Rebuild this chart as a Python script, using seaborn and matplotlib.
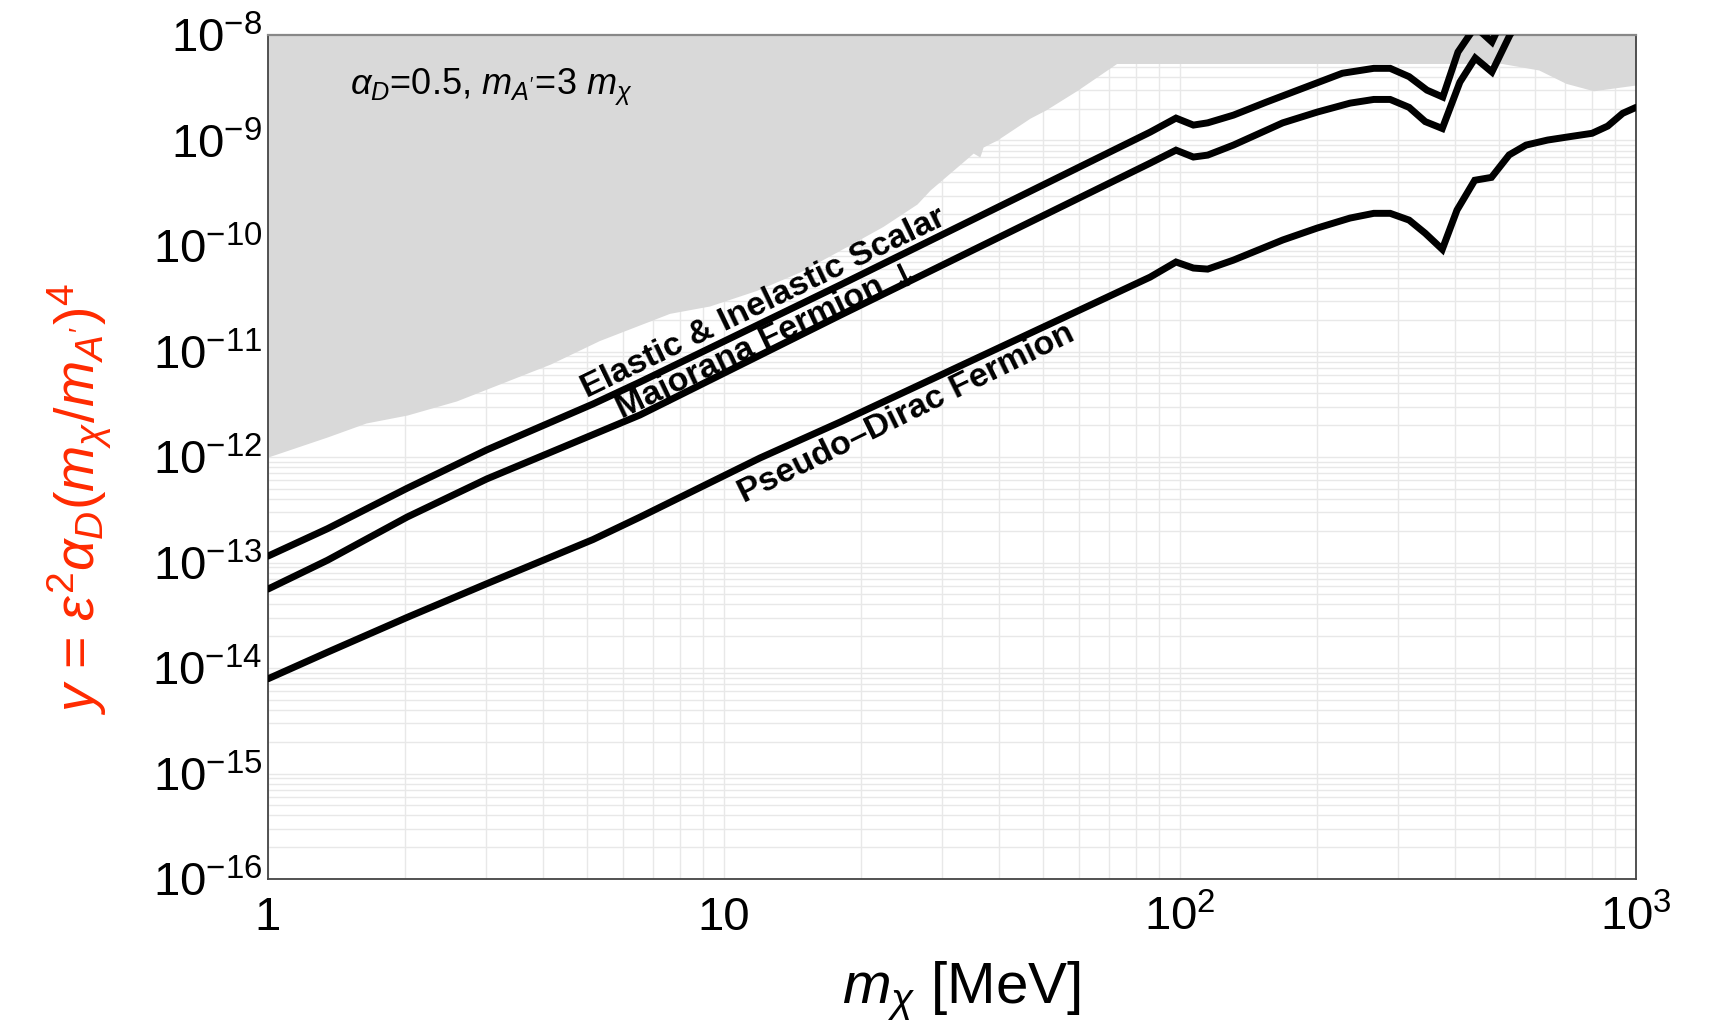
import numpy as np
import pandas as pd
import matplotlib
matplotlib.use("Agg")
import matplotlib.pyplot as plt
import seaborn as sns
from matplotlib.ticker import LogLocator

# --- values (m_chi in MeV, y dimensionless) ---
scalar_x = [1, 1.35, 2.02, 3.02, 5.16, 6.54, 17.96, 86, 98, 107, 115, 131, 155,
            227, 266, 289, 318, 348, 377, 407, 444, 483, 529, 585]
scalar_y = [1.15e-13, 2.09e-13, 5.06e-13, 1.17e-12, 3.18e-12, 5.13e-12, 4.26e-11,
            1.2e-9, 1.63e-9, 1.40e-9, 1.47e-9, 1.74e-9, 2.32e-9, 4.34e-9, 4.83e-9,
            4.83e-9, 4.03e-9, 3.0e-9, 2.58e-9, 6.9e-9, 1.2e-8, 8.6e-9, 2.0e-8, 3.8e-8]

maj_x = [1, 1.35, 2.02, 3.02, 6.54, 17.96, 86, 98, 107, 115, 131, 168, 200, 236,
         266, 289, 318, 345, 376, 411, 444, 483, 529, 585]
maj_y = [5.6e-14, 1.05e-13, 2.7e-13, 6.2e-13, 2.5e-12, 2.2e-11, 6.1e-10, 8.1e-10,
         6.97e-10, 7.27e-10, 9.05e-10, 1.47e-9, 1.86e-9, 2.26e-9, 2.45e-9, 2.45e-9,
         2.06e-9, 1.51e-9, 1.30e-9, 3.58e-9, 6.05e-9, 4.46e-9, 1.0e-8, 1.9e-8]

pd_x = [1, 1.35, 2.02, 3.02, 5.16, 6.54, 12.0, 17.96, 86, 98, 107, 115, 131, 168,
        200, 236, 266, 289, 318, 345, 376, 405, 443, 482, 527, 574, 640, 718, 801,
        867, 935, 1000]
pd_y = [7.9e-15, 1.41e-14, 3.02e-14, 6.3e-14, 1.65e-13, 2.69e-13, 9.8e-13, 2.14e-12,
        5.07e-11, 7.05e-11, 6.18e-11, 6.04e-11, 7.35e-11, 1.14e-10, 1.48e-10,
        1.84e-10, 2.04e-10, 2.04e-10, 1.76e-10, 1.32e-10, 9.3e-11, 2.19e-10, 4.2e-10,
        4.47e-10, 7.3e-10, 9.05e-10, 1.01e-9, 1.09e-9, 1.17e-9, 1.37e-9, 1.81e-9, 2.06e-9]

# excluded (gray) region: lower edge, filled up to the top of the plot
gray_x = [1, 1.35, 1.64, 2.02, 2.59, 4.16, 5.33, 7.6, 9.3, 11.8, 14.7, 17.7, 22.3,
          26.5, 28.3, 33.4, 35.2, 36.4, 37.0, 39.7, 46.9, 50.8, 59.6, 72.6, 508, 612,
          702, 807, 1000]
gray_y = [1.0e-12, 1.55e-12, 2.1e-12, 2.5e-12, 3.4e-12, 7.6e-12, 1.27e-11, 2.3e-11,
          2.7e-11, 3.8e-11, 5.7e-11, 8.8e-11, 1.53e-10, 2.5e-10, 3.39e-10, 6.25e-10,
          7.6e-10, 6.97e-10, 8.67e-10, 1.01e-9, 1.63e-9, 1.95e-9, 3.0e-9, 5.37e-9,
          5.37e-9, 4.66e-9, 3.48e-9, 2.96e-9, 3.36e-9]
y_top = 1e-8

x_ticks = [1, 10, 100, 1000]
x_labels = ["1", "10", r"$\mathdefault{10^{2}}$", r"$\mathdefault{10^{3}}$"]
y_ticks = 10.0 ** np.arange(-16, -7)

sns.set_theme(style="white")
plt.rcParams["font.family"] = ["Liberation Sans", "DejaVu Sans"]
plt.rcParams["mathtext.fontset"] = "custom"
plt.rcParams["mathtext.rm"] = "Liberation Sans"
plt.rcParams["mathtext.it"] = "Liberation Sans:italic"
plt.rcParams["mathtext.bf"] = "Liberation Sans:bold"
plt.rcParams["text.color"] = "black"
plt.rcParams["axes.labelcolor"] = "black"
plt.rcParams["xtick.labelcolor"] = "black"
plt.rcParams["ytick.labelcolor"] = "black"

curves = pd.concat([
    pd.DataFrame({"m": scalar_x, "y": scalar_y, "curve": "scalar"}),
    pd.DataFrame({"m": maj_x, "y": maj_y, "curve": "majorana"}),
    pd.DataFrame({"m": pd_x, "y": pd_y, "curve": "pseudo-dirac"}),
])

fig = plt.figure(figsize=(17.16, 10.29), dpi=100)
ax = fig.add_axes([268 / 1716, 1 - 879 / 1029, 1368 / 1716, 844 / 1029])
ax.set_xscale("log")
ax.set_yscale("log")

ax.fill_between(gray_x, gray_y, y_top, color="#d9d9d9", lw=0, zorder=1)
sns.lineplot(data=curves, x="m", y="y", hue="curve", palette=["black"] * 3,
             estimator=None, sort=False, legend=False, lw=5.0,
             solid_joinstyle="miter", zorder=3, ax=ax)

ax.set_xlim(1, 1000)
ax.set_ylim(1e-16, 1e-8)
ax.set_axisbelow(True)
ax.grid(True, which="both", color="#e8e8e8", lw=1.0)

ax.set_xticks(x_ticks, x_labels)
ax.xaxis.set_minor_locator(LogLocator(base=10, subs=np.arange(2, 10), numticks=100))
ax.set_yticks(y_ticks)
ax.yaxis.set_minor_locator(LogLocator(base=10, subs=np.arange(2, 10), numticks=100))
ax.tick_params(which="both", direction="in", color="#444444", labelsize=34,
               labelcolor="black")
ax.tick_params(axis="x", which="major", length=8, pad=12)
ax.tick_params(axis="x", which="minor", length=6)
ax.tick_params(axis="y", which="major", length=8, pad=4)
ax.tick_params(axis="y", which="minor", length=0)
ax.yaxis.set_minor_formatter(plt.NullFormatter())
ax.xaxis.set_minor_formatter(plt.NullFormatter())

for s in ["left", "bottom", "right"]:
    ax.spines[s].set_color("#444444")
    ax.spines[s].set_linewidth(1.3)
ax.spines["top"].set_color("#888888")
ax.spines["top"].set_linewidth(1.6)

lab = dict(fontsize=24.5, fontweight="bold", ha="left", va="baseline",
           rotation_mode="anchor", zorder=2.5, color="black")
ax.text(5.0, 3.59e-12, "Elastic & Inelastic Scalar", rotation=25.8, **lab)
ax.text(5.97, 2.32e-12, "Majorana Fermion", rotation=25.5, **lab)
ax.text(23.8, 3.9e-11, "\u2193", rotation=25.5, family="DejaVu Sans",
        fontsize=24, fontweight="bold", ha="left", va="baseline",
        rotation_mode="anchor", zorder=2.5, color="black")
ax.text(11.06, 3.66e-13, "Pseudo\u2013Dirac Fermion", rotation=26.2, **lab)

ax.text(0.06, 0.929, r"$\alpha_D$=0.5, $m_{A^{\prime}}$=3 $m_\chi$",
        transform=ax.transAxes, fontsize=26, ha="left", va="baseline")

ax.set_xlabel(r"$m_\chi$ [MeV]", fontsize=42)
ax.xaxis.set_label_coords(0.507, -0.095)
ax.set_ylabel(r"$y$ = $\varepsilon^2\alpha_D(m_\chi/m_{A^{\prime}})^4$",
              fontsize=40, color="#ff2a00")
ax.yaxis.set_label_coords(-0.113, 0.45)

fig.savefig("out.png", dpi=100)
